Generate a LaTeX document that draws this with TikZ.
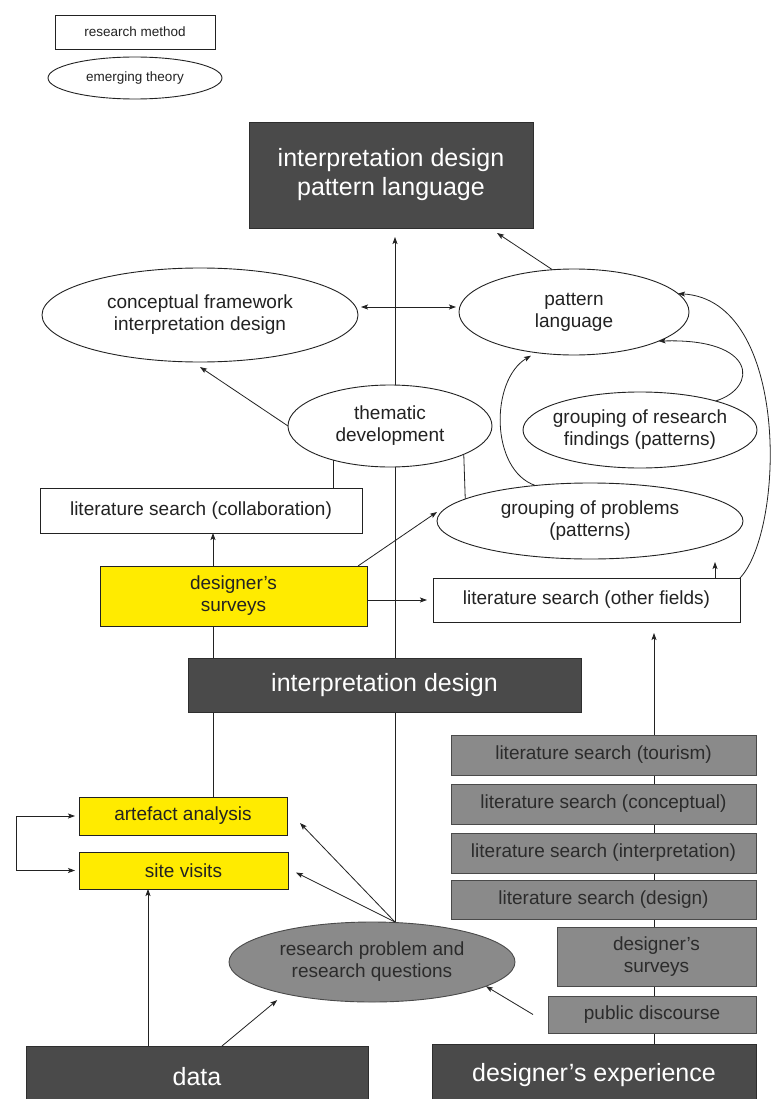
\documentclass[tikz,border=0pt]{standalone}
\usepackage{fontspec}
\setmainfont{Liberation Sans}
\usetikzlibrary{shapes.geometric,arrows.meta,calc}
\pgfdeclarelayer{background}
\pgfsetlayers{background,main}
\definecolor{ink}{HTML}{222222}
\definecolor{darkfill}{HTML}{4A4A4A}
\definecolor{darkedge}{HTML}{2E2E2E}
\definecolor{greyfill}{HTML}{8A8A8A}
\definecolor{greyedge}{HTML}{4A4A4A}
\definecolor{greytext}{HTML}{2B2B2B}
\definecolor{methodyellow}{HTML}{FFEB00}

\begin{document}
\begin{tikzpicture}[x=1pt,y=-1pt,
  every node/.style={inner sep=0pt, outer sep=0pt, align=center, text=ink},
  txt/.style={font=\fontsize{19}{22}\selectfont},
  txtbig/.style={font=\fontsize{25}{29}\selectfont},
  txtsmall/.style={font=\fontsize{13.5}{16}\selectfont},
  methodbox/.style={rectangle, draw=ink, line width=0.9pt, fill=white, txt},
  theorybox/.style={ellipse, draw=ink, line width=0.9pt, fill=white, txt},
  ybox/.style={methodbox, fill=methodyellow},
  dbox/.style={rectangle, draw=darkedge, line width=0.9pt, fill=darkfill, text=white, txtbig},
  gbox/.style={rectangle, draw=greyedge, line width=0.9pt, fill=greyfill, text=greytext, txt},
  wire/.style={draw=ink, line width=0.8pt},
  arr/.style={wire, -{Stealth[length=7pt,width=5pt,inset=1.5pt]}},
  arrboth/.style={wire, {Stealth[length=7pt,width=5pt,inset=1.5pt]}-{Stealth[length=7pt,width=5pt,inset=1.5pt]}},
]
\useasboundingbox (0,0) rectangle (771,1099);

% legend
\node[methodbox, txtsmall, minimum width=160pt, minimum height=34pt] (legmethod) at (135,32) {research method};
\node[theorybox, txtsmall, minimum width=174pt, minimum height=42pt] (legtheory) at (135,78) {emerging theory};

% upper part: theory building
\node[dbox, minimum width=284pt, minimum height=106pt] (idpl) at (391,175) {interpretation design\\pattern language};
\node[theorybox, minimum width=316pt, minimum height=94pt] (concept) at (200,315) {conceptual framework\\interpretation design};
\node[theorybox, minimum width=230pt, minimum height=86pt] (pattern) at (574,312) {pattern\\language};
\node[theorybox, minimum width=204pt, minimum height=82pt] (thematic) at (390,426) {thematic\\development};
\node[theorybox, inner xsep=-5pt, minimum width=234pt, minimum height=76pt] (findings) at (640,430) {grouping of research\\findings (patterns)};
\node[theorybox, minimum width=306pt, minimum height=76pt] (problems) at (590,521) {grouping of problems\\(patterns)};

% methods
\node[methodbox, minimum width=322pt, minimum height=45pt] (litcollab) at (201,510.5) {literature search (collaboration)};
\node[ybox, minimum width=267pt, minimum height=60pt] (dsurveys) at (233.5,596) {designer's\\surveys};
\node[methodbox, minimum width=307pt, minimum height=44pt] (litother) at (586.5,600) {literature search (other fields)};
\node[dbox, minimum width=393pt, minimum height=54pt] (interp) at (384.5,685) {interpretation design};
\node[ybox, minimum width=208pt, minimum height=38pt] (artefact) at (183,816) {artefact analysis};
\node[ybox, minimum width=209pt, minimum height=37pt] (site) at (183.5,870.5) {site visits};
\node[theorybox, fill=greyfill, draw=greyedge, text=greytext, minimum width=286pt, minimum height=80pt] (problem) at (372,962) {research problem and\\research questions};

% sources
\node[dbox, minimum width=342pt, minimum height=62pt] (data) at (197,1077) {data};
\node[dbox, minimum width=324pt, minimum height=62pt] (experience) at (594,1075) {designer's experience};

% designer's experience column
\node[gbox, minimum width=305pt, minimum height=40pt] (littour) at (603.5,755) {literature search (tourism)};
\node[gbox, minimum width=305pt, minimum height=40pt] (litconcept) at (603.5,804) {literature search (conceptual)};
\node[gbox, minimum width=305pt, minimum height=40pt] (litinterp) at (603.5,853) {literature search (interpretation)};
\node[gbox, minimum width=305pt, minimum height=39pt] (litdesign) at (603.5,899.5) {literature search (design)};
\node[gbox, minimum width=199pt, minimum height=59pt] (gsurveys) at (656.5,956.5) {designer's\\surveys};
\node[gbox, minimum width=208pt, minimum height=37pt] (discourse) at (652,1014.5) {public discourse};

% column positions of the vertical connectors
\coordinate (colL) at (213,0);
\coordinate (colM) at (395,0);
\coordinate (colR) at (654,0);
\coordinate (colS) at (148,0);
\coordinate (colT) at (715,0);

\begin{pgfonlayer}{background}
  \fill[white] (0,0) rectangle (771,1099);
  % spines running behind the boxes
  \draw[wire] (artefact.north -| colL) -- (dsurveys.south -| colL);
  \draw[arr, shorten >=9pt] (problem.north -| colM) -- (idpl.south -| colM);
  \draw[arr, shorten >=11pt] (experience.north -| colR) -- (litother.south -| colR);
\end{pgfonlayer}

% links around thematic development
\draw[wire] (thematic.211.5) -- (thematic.211.5 |- litcollab.north);
\draw[wire] (thematic.339.7) -- (problems.170);
\draw[arr] (thematic.west) -- ([yshift=-5pt]concept.south);
\draw[arrboth, shorten <=3pt, shorten >=3pt] ([yshift=8pt]concept.east) -- ([yshift=8pt]concept.east -| pattern.west);
\draw[arr] (pattern.117.5) -- ([xshift=-36pt,yshift=-5pt]idpl.south east);

% method arrows
\draw[arr] (dsurveys.north -| colL) -- (litcollab.south -| colL);
\draw[arr, shorten >=6pt] (litother.west -| dsurveys.east) -- (litother.west);
\draw[arr, shorten >=3pt] (litother.north -| colT) -- (problems.south -| colT);
\draw[arr] ([xshift=-9pt]dsurveys.north east) -- ([yshift=9pt]problems.west);

% curved links into the pattern language
\draw[arr] (findings.21.7) .. controls (758,388) and (758,338) .. (pattern.341.7);
\draw[arr] (litother.north east) .. controls (785,530) and (790,300) .. (pattern.10);
\draw[arr, shorten >=6pt] (problems.147.7) .. controls (490,470) and (490,380) .. (pattern.227.7);

% lower part
\draw[arrboth, shorten <=4pt, shorten >=4pt] (artefact.west) -- ++(-63,0) |- (site.west);
\draw[arr] (problem.north -| colM) -- ([xshift=13pt,yshift=-7pt]artefact.east);
\draw[arr] (problem.north -| colM) -- ([xshift=8pt,yshift=-2pt]site.east);
\draw[arr] (data.north -| colS) -- (site.south -| colS);
\draw[arr, shorten >=10pt] ([xshift=25pt]data.north) -- (problem.200);
\draw[arr] ([xshift=-15pt]discourse.west) -- (problem.348.6);
\end{tikzpicture}
\end{document}
